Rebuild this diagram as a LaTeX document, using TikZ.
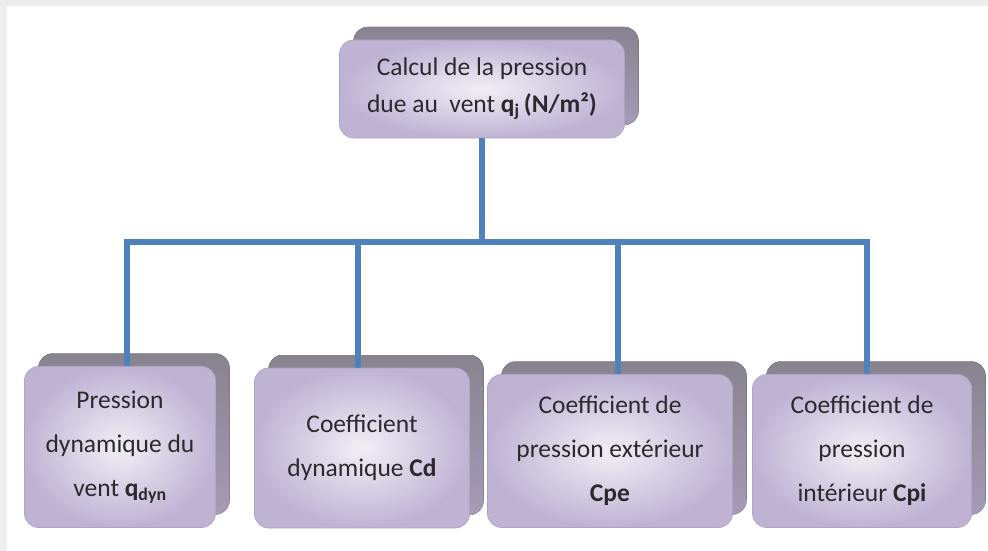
\documentclass[tikz,border=0pt]{standalone}
\usepackage{fontspec}
\setmainfont{Carlito}
\usetikzlibrary{shadows}

\definecolor{busblue}{HTML}{4F81BD}
\definecolor{faceinner}{HTML}{F1EFF5}
\definecolor{faceouter}{HTML}{BFB3D4}
\definecolor{faceedge}{HTML}{AEA4C2}
\definecolor{backtop}{HTML}{88838F}
\definecolor{backbot}{HTML}{A59BB6}
\definecolor{labeltext}{HTML}{2A2A2E}

\tikzset{
  facebox/.style={rounded corners=14pt, inner color=faceinner, outer color=faceouter,
    draw=faceedge, line width=0.6pt, align=center, text=labeltext,
    font=\fontsize{25.5}{44}\selectfont,
    copy shadow={shadow xshift=14pt, shadow yshift=13pt, draw=none,
      top color=backtop, bottom color=backbot}},
  bus/.style={busblue, line width=6pt}
}

\begin{document}
\begin{tikzpicture}[x=1pt, y=-1pt]
  \useasboundingbox (0,0) rectangle (988,551);
  \fill[black!7] (0,0) rectangle (988,551);
  \fill[white] (7,6) rectangle (988,551);

  \node[facebox, minimum width=285pt, minimum height=98pt,
        font=\fontsize{25.5}{37}\selectfont] (calc) at (482,89)
    {Calcul de la pression\\due au\ \ vent \textbf{q\textsubscript{j}\,(N/m²)}};

  \node[facebox, minimum width=191pt, minimum height=161pt] (qdyn) at (120,447)
    {Pression\\dynamique du\\vent \textbf{q\textsubscript{dyn}}};
  \node[facebox, minimum width=215pt, minimum height=160pt] (cd) at (362,448)
    {Coefficient\\dynamique \textbf{Cd}};
  \node[facebox, minimum width=245pt, minimum height=153pt] (cpe) at (610,451)
    {Coefficient de\\pression extérieur\\\textbf{Cpe}};
  \node[facebox, minimum width=219pt, minimum height=153pt] (cpi) at (862,451)
    {Coefficient de\\pression\\intérieur \textbf{Cpi}};

  % bus
  \coordinate (j1) at (127,242);
  \coordinate (j2) at (358,242);
  \coordinate (j3) at (618,242);
  \coordinate (j4) at (867,242);
  \draw[bus] (calc.south) -- (calc.south |- j1);
  \draw[bus] (j1 |- qdyn.north) -- (j1) -- (j4) -- (j4 |- cpi.north);
  \draw[bus] (j2) -- (j2 |- cd.north);
  \draw[bus] (j3) -- (j3 |- cpe.north);
\end{tikzpicture}
\end{document}
